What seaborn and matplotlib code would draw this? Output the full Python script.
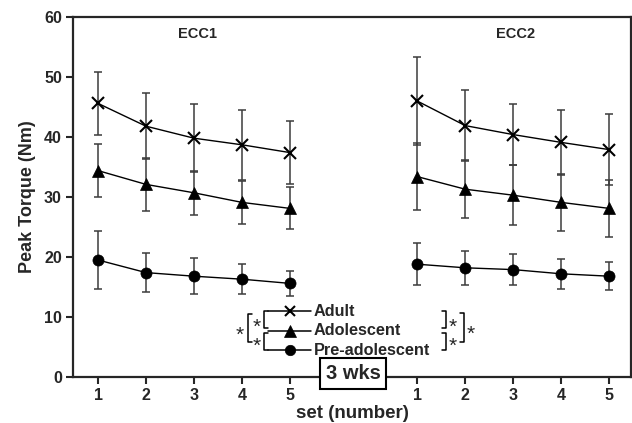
import matplotlib
matplotlib.use("Agg")
import matplotlib.pyplot as plt
import seaborn as sns
import pandas as pd
import numpy as np

sns.set_style("ticks")
plt.rcParams["font.family"] = ["Liberation Sans", "DejaVu Sans"]
plt.rcParams["font.weight"] = "bold"

# data (mean and SD of peak torque, Nm)
sets = [1, 2, 3, 4, 5]
groups = ["Adult", "Adolescent", "Pre-adolescent"]
phases = ["ECC1", "ECC2"]

ecc1_adult = [45.6, 41.8, 39.8, 38.7, 37.4]
ecc1_adult_sd = [5.25, 5.45, 5.7, 5.8, 5.2]
ecc1_adol = [34.4, 32.1, 30.7, 29.1, 28.1]
ecc1_adol_sd = [4.45, 4.45, 3.7, 3.55, 3.5]
ecc1_pre = [19.5, 17.4, 16.8, 16.3, 15.6]
ecc1_pre_sd = [4.8, 3.3, 3.0, 2.5, 2.1]

ecc2_adult = [46.0, 41.9, 40.4, 39.1, 37.9]
ecc2_adult_sd = [7.3, 5.95, 5.15, 5.45, 5.9]
ecc2_adol = [33.4, 31.3, 30.3, 29.1, 28.1]
ecc2_adol_sd = [5.55, 4.8, 5.0, 4.8, 4.7]
ecc2_pre = [18.8, 18.2, 17.9, 17.2, 16.8]
ecc2_pre_sd = [3.45, 2.8, 2.6, 2.5, 2.35]

means = {"ECC1": [ecc1_adult, ecc1_adol, ecc1_pre],
         "ECC2": [ecc2_adult, ecc2_adol, ecc2_pre]}
sds = {"ECC1": [ecc1_adult_sd, ecc1_adol_sd, ecc1_pre_sd],
       "ECC2": [ecc2_adult_sd, ecc2_adol_sd, ecc2_pre_sd]}

rows = []
for phase in phases:
    for g, group in enumerate(groups):
        for s, m, sd in zip(sets, means[phase][g], sds[phase][g]):
            rows.append(dict(phase=phase, group=group, set=s, mean=m, sd=sd))
df = pd.DataFrame(rows)

# second block of sets is shifted right on the axis
offset = {"ECC1": 0.0, "ECC2": 6.65}
df["pos"] = df["set"] + df["phase"].map(offset)

markers = {"Adult": "x", "Adolescent": "^", "Pre-adolescent": "o"}
msize = {"Adult": 8, "Adolescent": 8.5, "Pre-adolescent": 8}

fig = plt.figure(figsize=(6.32, 4.23), dpi=100)
ax = fig.add_axes([73 / 632, 46 / 423, 558 / 632, 360 / 423])

for phase in phases:
    for group in groups:
        sub = df[(df["phase"] == phase) & (df["group"] == group)]
        ax.errorbar(sub["pos"], sub["mean"], yerr=sub["sd"], fmt="none",
                    ecolor="#3c3c3c", elinewidth=1.1, capsize=2.6, capthick=1.1, zorder=1)
        sns.lineplot(data=sub, x="pos", y="mean", ax=ax, color="black", lw=1.0,
                     marker=markers[group], ms=msize[group], mec="black", mfc="black",
                     mew=1.5 if group == "Adult" else 0.5, legend=False, zorder=3)

ax.set_xlim(0.479, 12.104)
ax.set_ylim(0, 60)
ax.set_yticks(range(0, 61, 10))
ticks = [s + offset[p] for p in phases for s in sets]
ax.set_xticks(ticks)
ax.set_xticklabels([str(s) for p in phases for s in sets])
ax.tick_params(axis="both", width=1.5, length=5, labelsize=11.5, pad=3)
for lab in ax.get_xticklabels() + ax.get_yticklabels():
    lab.set_fontweight("bold")
for sp in ax.spines.values():
    sp.set_linewidth(1.6)
    sp.set_visible(True)

ax.set_xlabel("set (number)", fontsize=13.5, fontweight="bold", labelpad=1)
ax.set_ylabel("Peak Torque (Nm)", fontsize=13, fontweight="bold", labelpad=6)

ax.text(3.08, 57.2, "ECC1", ha="center", va="center", fontsize=10.5, fontweight="bold")
ax.text(9.7, 57.2, "ECC2", ha="center", va="center", fontsize=10.5, fontweight="bold")

# hand-drawn legend with significance brackets (axes fraction coords)
def fx(px):
    return (px - 73) / 558

def fy(py):
    return (377 - py) / 360

tr = ax.transAxes
row_y = [311, 330.5, 350]
for group, py in zip(groups, row_y):
    ax.plot([fx(268), fx(311)], [fy(py), fy(py)], color="black", lw=1.1,
            transform=tr, clip_on=False)
    ax.plot([fx(290)], [fy(py)], marker=markers[group], ms=msize[group] - 0.5,
            color="black", mew=1.5 if group == "Adult" else 0.5, transform=tr, clip_on=False)
    ax.text(fx(314), fy(py), group, ha="left", va="center", fontsize=11.7,
            fontweight="bold", transform=tr)

def bracket(x, y0, y1, arm):
    ax.plot([fx(x + arm), fx(x), fx(x), fx(x + arm)], [fy(y0), fy(y0), fy(y1), fy(y1)],
            color="black", lw=1.1, transform=tr, clip_on=False)

def star(x, y):
    ax.text(fx(x), fy(y), "*", ha="center", va="center", fontsize=15,
            fontweight="normal", transform=tr)

# left side
bracket(264, 311, 328, 4)
bracket(264, 333, 350, 4)
bracket(248, 314, 342, 4)
star(256.5, 327)
star(256.5, 346)
star(240, 335)
# right side
bracket(446, 311, 328, -4)
bracket(446, 333, 350, -4)
bracket(464, 313, 342, -4)
star(453, 327)
star(453, 346)
star(471, 334)

ax.text(fx(353), fy(373.5), "3 wks", ha="center", va="center", fontsize=14.5,
        fontweight="bold", transform=tr, zorder=5,
        bbox=dict(boxstyle="square,pad=0.28", fc="white", ec="black", lw=1.5))

fig.savefig("out.png", dpi=100)
